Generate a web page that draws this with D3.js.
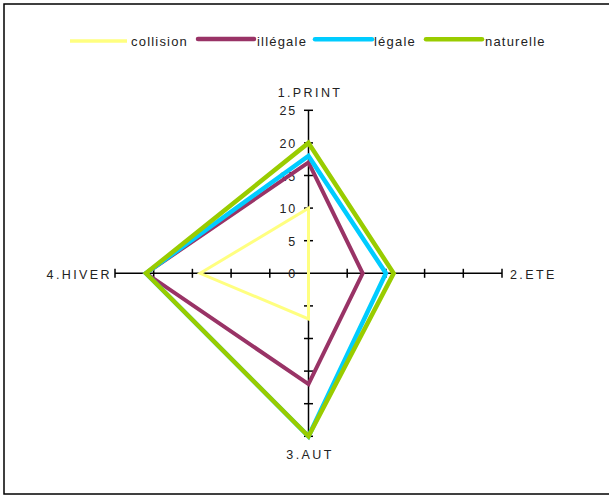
<!DOCTYPE html>
<html>
<head>
<meta charset="utf-8">
<script src="https://cdn.jsdelivr.net/npm/d3@7"></script>
<style>
  html, body { margin: 0; padding: 0; background: #fff; }
  svg { display: block; font-family: "Liberation Sans", Arial, sans-serif; }
</style>
</head>
<body>
<svg id="chart" width="609" height="495"></svg>
<script>
// ---- data ----
const axes = ["1.PRINT", "2.ETE", "3.AUT", "4.HIVER"];
const seriesNames = ["collision", "illégale", "légale", "naturelle"];
const collision = [10, 0, 7, 14];
const illegale  = [17, 7, 17, 21];
const legale    = [18, 10, 25, 21];
const naturelle = [20, 11, 25, 21];
const tickValues = [0, 5, 10, 15, 20, 25];

const seriesValues = [collision, illegale, legale, naturelle];
const colors = ["#FFFF80", "#993366", "#00CCFF", "#99CC00"];
const widths = [3, 4, 4.5, 4.5];

const svg = d3.select("#chart");
const cx = 308.5, cy = 273.3;
const rx = d3.scaleLinear().domain([0, 25]).range([0, 193.5]);
const ry = d3.scaleLinear().domain([0, 25]).range([0, 163]);

// frame
svg.append("rect").attr("x", 4).attr("y", 4).attr("width", 640).attr("height", 490)
  .attr("fill", "none").attr("stroke", "#000").attr("stroke-width", 1.5);

// axis directions: top, right, bottom, left
const dirs = [[0, -1], [1, 0], [0, 1], [-1, 0]];
function pt(i, v) {
  return [cx + dirs[i][0] * rx(v), cy + dirs[i][1] * ry(v)];
}

const g = svg.append("g");
// axis lines
axes.forEach((a, i) => {
  const p = pt(i, 25);
  g.append("line").attr("x1", cx).attr("y1", cy).attr("x2", p[0]).attr("y2", p[1])
    .attr("stroke", "#000").attr("stroke-width", 1.5);
  tickValues.filter(t => t > 0).forEach(t => {
    const q = pt(i, t);
    const vert = dirs[i][0] === 0;
    g.append("line")
      .attr("x1", vert ? q[0] - 4.5 : q[0]).attr("x2", vert ? q[0] + 4.5 : q[0])
      .attr("y1", vert ? q[1] : q[1] - 4.5).attr("y2", vert ? q[1] : q[1] + 4.5)
      .attr("stroke", "#000").attr("stroke-width", 1.5);
  });
});

// tick labels on top axis
tickValues.forEach(t => {
  svg.append("text").attr("x", cx - 11.5).attr("y", cy - ry(t) + 5)
    .attr("text-anchor", "end").attr("font-size", 12.5).attr("letter-spacing", 1.8)
    .attr("fill", "#222").text(t);
});

// axis labels
const labelStyle = sel => sel.attr("font-size", 12.5).attr("letter-spacing", 2.4).attr("fill", "#222");
svg.append("text").attr("x", cx + 1.5).attr("y", cy - ry(25) - 13).attr("text-anchor", "middle").call(labelStyle).text(axes[0]);
svg.append("text").attr("x", cx + rx(25) + 8).attr("y", cy + 5.5).attr("text-anchor", "start").call(labelStyle).text(axes[1]);
svg.append("text").attr("x", cx + 1.5).attr("y", cy + ry(25) + 23).attr("text-anchor", "middle").call(labelStyle).text(axes[2]);
svg.append("text").attr("x", cx - rx(25) - 3).attr("y", cy + 5.5).attr("text-anchor", "end").call(labelStyle).text(axes[3]);

// series polygons
const line = d3.line().curve(d3.curveLinearClosed);
seriesValues.forEach((vals, s) => {
  svg.append("path")
    .attr("d", line(vals.map((v, i) => pt(i, v))))
    .attr("fill", "none").attr("stroke", colors[s]).attr("stroke-width", widths[s])
    .attr("stroke-linejoin", "miter").attr("stroke-miterlimit", 10);
});

// legend
const legX = [[70, 127, 131], [198, 254, 257], [315, 372, 374], [426, 482, 485]];
const legY = [41, 39, 39.3, 39.3];
seriesNames.forEach((n, s) => {
  svg.append("line").attr("x1", legX[s][0]).attr("x2", legX[s][1])
    .attr("y1", legY[s]).attr("y2", legY[s])
    .attr("stroke", colors[s]).attr("stroke-width", s === 0 ? 3.5 : 4.5)
    .attr("stroke-linecap", s === 0 ? "butt" : "round");
  svg.append("text").attr("x", legX[s][2]).attr("y", 46)
    .attr("font-size", 13).attr("letter-spacing", 1.2).attr("fill", "#222").text(n);
});
</script>
</body>
</html>
